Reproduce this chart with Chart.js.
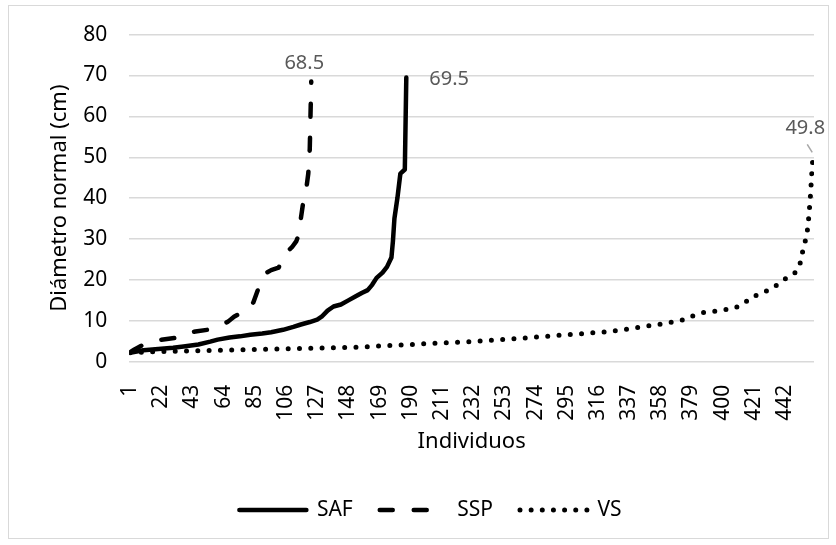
<!DOCTYPE html>
<html>
<head>
<meta charset="utf-8">
<script src="https://cdn.jsdelivr.net/npm/chart.js@4.4.0/dist/chart.umd.min.js"></script>
<style>
    html, body { margin: 0; padding: 0; background: #fff; }
    #wrap { position: relative; width: 836px; height: 545px; }
    #frame {
        position: absolute; left: 8px; top: 5px; width: 821px; height: 534px;
        border: 1px solid #d9d9d9; box-sizing: border-box; pointer-events: none;
    }
</style>
</head>
<body>
<div id="wrap">
    <canvas id="chart" width="836" height="545"></canvas>
    <div id="frame"></div>
</div>
<script>
// individuals (sorted by diameter) and diameter in cm
const safIdx = [1, 10, 20, 30, 37, 47, 55, 60, 68, 75, 82, 90, 96, 104, 111, 116, 122, 127, 130, 134, 138, 143, 148, 153, 157, 161, 164, 167, 171, 174, 177, 178, 179, 181, 183, 186, 187];
const safDiam = [2.2, 2.8, 3.1, 3.4, 3.7, 4.2, 4.9, 5.4, 5.9, 6.2, 6.6, 6.9, 7.2, 7.8, 8.5, 9.1, 9.7, 10.3, 11.0, 12.5, 13.5, 14.0, 15.0, 16.0, 16.8, 17.5, 18.8, 20.5, 21.8, 23.2, 25.5, 29.5, 35.0, 40.0, 46.0, 47.0, 69.5];

const sspIdx = [1, 4, 8, 14, 21, 31, 38, 45, 53, 58, 62, 67, 71, 76, 81, 84, 87, 90, 93, 96, 101, 104, 107, 110, 113, 115, 116, 118, 120, 121, 122, 123];
const sspDiam = [2.3, 3.0, 3.8, 4.6, 5.3, 5.8, 7.0, 7.4, 7.8, 8.4, 9.0, 9.8, 11.0, 12.0, 12.8, 14.5, 17.5, 20.2, 21.8, 22.4, 23.0, 25.0, 27.0, 28.0, 29.5, 31.5, 35.0, 40.0, 43.2, 46.0, 52.0, 68.5];

const vsIdx = [1, 15, 40, 75, 110, 140, 156, 173, 195, 210, 235, 255, 270, 284, 300, 314, 322, 336, 351, 362, 373, 380, 387, 398, 408, 414, 420, 427, 433, 439, 444, 449, 451, 453, 454, 456, 457, 458, 459, 460, 461];
const vsDiam = [2.2, 2.4, 2.6, 2.9, 3.2, 3.4, 3.6, 3.9, 4.3, 4.6, 5.0, 5.5, 5.9, 6.3, 6.7, 7.1, 7.3, 8.0, 8.8, 9.4, 10.2, 11.2, 12.0, 12.5, 13.1, 14.2, 15.9, 16.8, 18.0, 19.3, 20.8, 21.8, 22.8, 25.0, 27.3, 30.0, 32.0, 35.4, 40.0, 46.0, 51.2];

const seriesNames = ["SAF", "SSP", "VS"];
const endLabels = ["69.5", "68.5", "49.8"];
const xTickLabels = [1, 22, 43, 64, 85, 106, 127, 148, 169, 190, 211, 232, 253, 274, 295, 316, 337, 358, 379, 400, 421, 442];
const yTicks = [0, 10, 20, 30, 40, 50, 60, 70, 80];
const totalIndividuals = 461;

const FONT = '"Noto Sans", sans-serif';

function toPoints(idx, vals) {
    return idx.map((v, i) => ({ x: v, y: vals[i] }));
}

// end-of-series data labels
const endLabelPlugin = {
    id: "endLabels",
    afterDatasetsDraw(chart) {
        const ctx = chart.ctx;
        chart.data.datasets.forEach((ds, k) => {
            const meta = chart.getDatasetMeta(k);
            const pt = meta.data[meta.data.length - 1];
            const o = ds.endLabel;
            ctx.save();
            if (o.leader) {
                ctx.strokeStyle = "#a6a6a6";
                ctx.lineWidth = 1.5;
                ctx.beginPath();
                ctx.moveTo(pt.x + o.leader[0], pt.y + o.leader[1]);
                ctx.lineTo(pt.x - 1, pt.y);
                ctx.stroke();
            }
            ctx.font = "20px " + FONT;
            ctx.fillStyle = "#595959";
            ctx.textAlign = o.align;
            ctx.textBaseline = "middle";
            ctx.fillText(endLabels[k], pt.x + o.dx, pt.y + o.dy);
            ctx.restore();
        });
    }
};

const datasets = [
    {
        label: seriesNames[0],
        data: toPoints(safIdx, safDiam),
        borderColor: "#000",
        borderWidth: 4.5,
        borderJoinStyle: "round",
        borderCapStyle: "round",
        endLabel: { align: "left", dx: 23, dy: 2 }
    },
    {
        label: seriesNames[1],
        data: toPoints(sspIdx, sspDiam),
        borderColor: "#000",
        borderWidth: 4.5,
        borderDash: [13, 21],
        borderCapStyle: "round",
        borderJoinStyle: "round",
        endLabel: { align: "center", dx: -7, dy: -18 }
    },
    {
        label: seriesNames[2],
        data: toPoints(vsIdx, vsDiam),
        borderColor: "#000",
        borderWidth: 5,
        borderDash: [0, 11.3],
        legendDash: [0, 11.15],
        borderCapStyle: "round",
        endLabel: { align: "center", dx: -8, dy: -24, leader: [-6, -8] }
    }
];

new Chart(document.getElementById("chart").getContext("2d"), {
    type: "line",
    data: { datasets: datasets },
    options: {
        responsive: false,
        animation: false,
        layout: { padding: { left: 47, right: 22, top: 34, bottom: 14.5 } },
        elements: { point: { radius: 0, hoverRadius: 0 }, line: { tension: 0 } },
        plugins: {
            tooltip: { enabled: false },
            legend: {
                position: "bottom",
                labels: {
                    usePointStyle: true,
                    pointStyleWidth: 67,
                    padding: 27,
                    color: "#000",
                    font: { family: FONT, size: 21 },
                    generateLabels(chart) {
                        const items = Chart.defaults.plugins.legend.labels.generateLabels(chart);
                        items.forEach((it, k) => {
                            const ds = chart.data.datasets[k];
                            it.pointStyle = "line";
                            it.strokeStyle = "#000";
                            it.lineWidth = ds.borderWidth;
                            it.lineDash = ds.legendDash || ds.borderDash || [];
                            it.lineCap = ds.borderCapStyle || "butt";
                        });
                        return items;
                    }
                }
            }
        },
        scales: {
            x: {
                type: "linear",
                min: 0.5,
                max: totalIndividuals + 0.5,
                grid: { display: false },
                border: { display: false },
                afterBuildTicks(scale) {
                    scale.ticks = xTickLabels.map(v => ({ value: v }));
                },
                afterFit(scale) { scale.height = 110.8; },
                ticks: {
                    autoSkip: false,
                    minRotation: 90,
                    maxRotation: 90,
                    padding: 15,
                    color: "#000",
                    font: { family: FONT, size: 21 }
                },
                title: {
                    display: true,
                    text: "Individuos",
                    color: "#000",
                    font: { family: FONT, size: 22 },
                    padding: { top: 0, bottom: 17.6 }
                }
            },
            y: {
                min: 0,
                max: 80,
                afterBuildTicks(scale) {
                    scale.ticks = yTicks.map(v => ({ value: v }));
                },
                afterFit(scale) { scale.width = 82.3; },
                grid: { color: "#d9d9d9", lineWidth: 1.5, drawTicks: false },
                border: { display: false },
                ticks: {
                    padding: 22,
                    color: "#000",
                    font: { family: FONT, size: 21 }
                },
                title: {
                    display: true,
                    text: "Diámetro normal (cm)",
                    color: "#000",
                    font: { family: FONT, size: 22 },
                    padding: 0
                }
            }
        }
    },
    plugins: [endLabelPlugin]
});
</script>
</body>
</html>
